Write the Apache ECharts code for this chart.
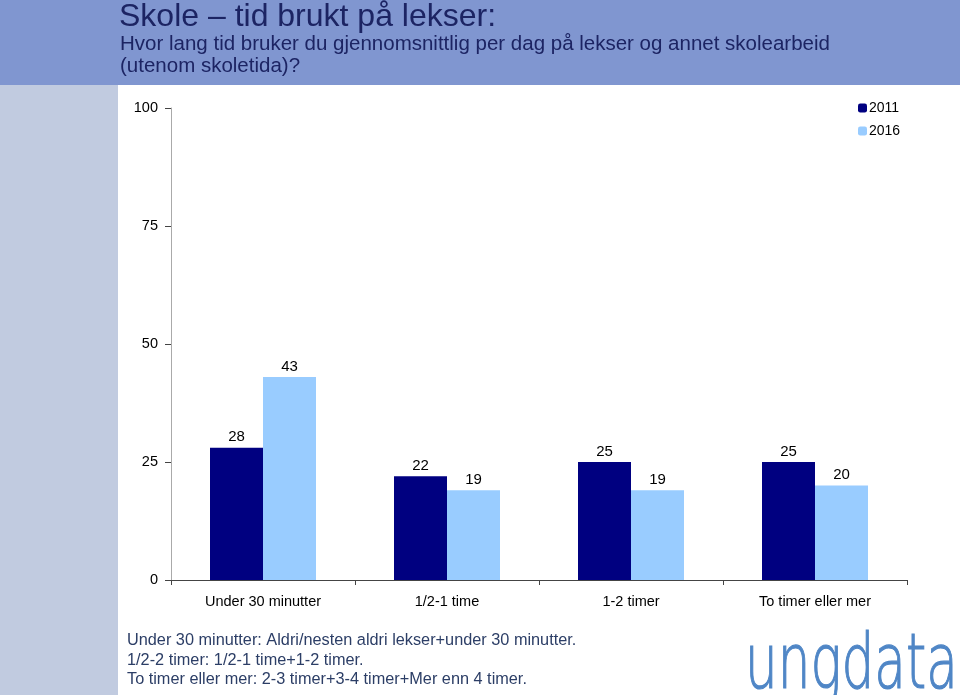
<!DOCTYPE html>
<html><head><meta charset="utf-8">
<script src="https://cdn.jsdelivr.net/npm/echarts@6/dist/echarts.min.js"></script>
<style>html,body{margin:0;padding:0;background:#fff}#c{width:960px;height:695px}</style>
</head><body><div id="c"></div>
<script>
var categories = ['Under 30 minutter', '1/2-1 time', '1-2 timer', 'To timer eller mer'];
var values2011 = [28, 22, 25, 25];
var values2016 = [43, 19, 19, 20];
var seriesNames = ['2011', '2016'];
var yTicks = [0, 25, 50, 75, 100];
var titleText = 'Skole \u2013 tid brukt p\u00e5 lekser:';
var subtitleLines = ['Hvor lang tid bruker du gjennomsnittlig per dag p\u00e5 lekser og annet skolearbeid', '(utenom skoletida)?'];
var notes = ['Under 30 minutter: Aldri/nesten aldri lekser+under 30 minutter.', '1/2-2 timer: 1/2-1 time+1-2 timer.', 'To timer eller mer: 2-3 timer+3-4 timer+Mer enn 4 timer.'];

var chart = echarts.init(document.getElementById('c'));
var labelStyle = {show: true, position: 'top', distance: 3, color: '#000', fontSize: 15, fontFamily: 'Liberation Sans, Arial'};
chart.setOption({
  animation: false,
  backgroundColor: '#fff',
  graphic: [
    {type: 'rect', left: 0, top: 0, shape: {width: 960, height: 85}, style: {fill: '#8096d0'}, z: -1},
    {type: 'rect', left: 0, top: 85, shape: {width: 118, height: 610}, style: {fill: '#c1cbe0'}, z: -1},
    {type: 'text', left: 119, top: 1, style: {text: titleText, fill: '#1c2463', font: '32px "Liberation Sans", Arial'}},
    {type: 'text', left: 120, top: 34, style: {text: subtitleLines.join('\n'), fill: '#1c2463', font: '20.5px "Liberation Sans", Arial', lineHeight: 21.5}},
    {type: 'text', left: 127, top: 631, style: {text: notes.join('\n'), fill: '#2c3e66', font: '16.3px "Liberation Sans", Arial', lineHeight: 19.5}},
    {type: 'text', x: 745, y: 630, scaleX: 0.68, scaleY: 1, style: {text: 'ungdata', fill: '#4f86c6', stroke: '#4f86c6', lineWidth: 1.2, font: '200 76px "DejaVu Sans", sans-serif'}}
  ],
  legend: {
    orient: 'vertical', left: 853, top: 96, itemWidth: 9, itemHeight: 9, itemGap: 9,
    textStyle: {color: '#000', fontSize: 14, fontFamily: 'Liberation Sans, Arial', padding: [0, 0, 0, -3]},
    data: seriesNames
  },
  grid: {left: 171, top: 108, right: 53, bottom: 115},
  xAxis: {
    type: 'category', data: categories,
    axisLine: {lineStyle: {color: '#444'}},
    axisTick: {show: true, length: 5, lineStyle: {color: '#444'}},
    axisLabel: {color: '#000', fontSize: 14.5, margin: 14, fontFamily: '"Liberation Sans Narrow", "Liberation Sans", Arial'}
  },
  yAxis: {
    type: 'value', min: 0, max: 100, interval: 25,
    axisLine: {show: true, lineStyle: {color: '#aaa'}},
    axisTick: {show: true, inside: false, length: 6, lineStyle: {color: '#444'}},
    axisLabel: {color: '#000', fontSize: 14.5, margin: 13, fontFamily: 'Liberation Sans, Arial',
      formatter: function (v) { return yTicks.indexOf(v) >= 0 ? String(v) : ''; }},
    splitLine: {show: false}
  },
  series: [
    {name: seriesNames[0], type: 'bar', data: values2011, barWidth: 53, barGap: '0%', itemStyle: {color: '#000080'}, label: labelStyle},
    {name: seriesNames[1], type: 'bar', data: values2016, barWidth: 53, barGap: '0%', itemStyle: {color: '#99ccff'}, label: labelStyle}
  ]
});
</script></body></html>
